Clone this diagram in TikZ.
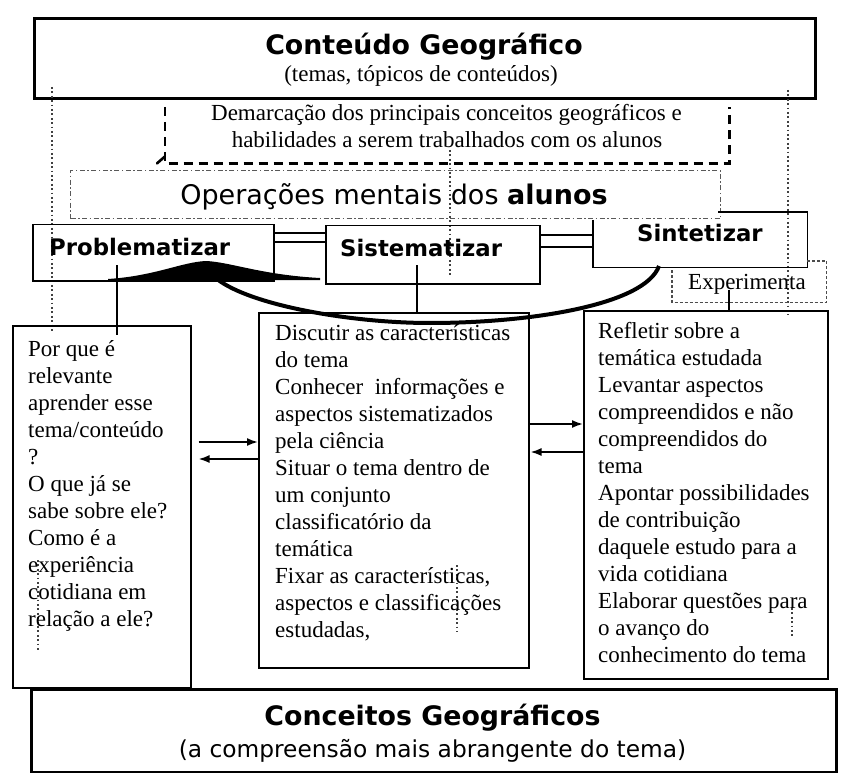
\documentclass[tikz,border=0pt]{standalone}
\usepackage{fontspec}
\setmainfont{Liberation Serif}
\newfontfamily\dvs{DejaVu Sans}
\usetikzlibrary{arrows.meta}
\begin{document}
\begin{tikzpicture}[x=1pt,y=-1pt,
  box/.style={draw, line width=1.5pt, inner sep=0pt, anchor=north west},
  heavybox/.style={box, line width=3pt},
  ghost/.style={inner sep=0pt, anchor=north west},
  serif/.style={font=\fontsize{23}{27}\selectfont, inner sep=0pt},
  txt/.style={serif, align=left, anchor=north west},
  opsfont/.style={font=\dvs\fontsize{27}{30}\selectfont, inner sep=0pt},
  titlefont/.style={font=\dvs\bfseries\fontsize{26.8}{30}\selectfont, inner sep=0pt},
  stepfont/.style={font=\dvs\bfseries\fontsize{22.8}{26}\selectfont, inner sep=0pt},
  subsans/.style={font=\dvs\fontsize{23.3}{27}\selectfont, inner sep=0pt},
  arr/.style={line width=1.8pt, -{Latex[length=11pt,width=8pt]}},
  link/.style={line width=1.5pt},
  dotline/.style={line width=1.6pt, dash pattern=on 1.8pt off 2.6pt, black!75},
  dashdot/.style={line width=1.2pt, dash pattern=on 5pt off 2.5pt on 1.5pt off 2.5pt, black!65},
  bigdash/.style={line width=2.6pt, dash pattern=on 9pt off 6pt},
  expdash/.style={line width=1.5pt, dash pattern=on 3pt off 2pt, black!70}
]
\useasboundingbox (0,0) rectangle (855,773);

% ---- top box ----
\node[heavybox, minimum width=781pt, minimum height=80pt] (top) at (33,17) {};
\node[titlefont, anchor=base] (toptitle) at (424,55) {Conteúdo Geográfico};
\node[serif, anchor=base] (topsub) at (421,82) {(temas, tópicos de conteúdos)};

% ---- demarcation (open dashed box) ----
\node[ghost, minimum width=564pt, minimum height=56pt] (demarc) at (165,107) {};
\draw[bigdash] (demarc.north west) -- (demarc.south west) -- (demarc.south east) -- (demarc.north east);
\draw[line width=2.6pt, line cap=round] ([yshift=7pt]demarc.south west) -- ([xshift=-8pt]demarc.south west);
\node[serif, anchor=base] (dem1) at (446.5,121) {Demarcação dos principais conceitos geográficos e};
\node[serif, anchor=base] (dem2) at (447,148) {habilidades a serem trabalhados com os alunos};

% ---- operações mentais ----
\node[ghost, draw, dashdot, minimum width=650pt, minimum height=48pt] (ops) at (70,170) {};
\node[opsfont, anchor=base] (opstxt) at (394,205) {Operações mentais dos \textbf{alunos}};

% ---- dotted guide lines ----
\coordinate (dl1) at (52,87);   \coordinate (dl2) at (52,333);
\coordinate (dr1) at (788,90);  \coordinate (dr2) at (788,315);
\coordinate (dm1) at (450,150); \coordinate (dm2) at (450,276);
\coordinate (da1) at (38,560);  \coordinate (da2) at (38,652);
\coordinate (db1) at (457,565); \coordinate (db2) at (457,632);
\coordinate (dc1) at (792,608); \coordinate (dc2) at (792,637);
\draw[dotline] (dl1) -- (dl2);
\draw[dotline] (dr1) -- (dr2);
\draw[dotline] (dm1) -- (dm2);
\draw[dotline] (da1) -- (da2);
\draw[dotline] (db1) -- (db2);
\draw[dotline] (dc1) -- (dc2);

% ---- step boxes ----
\node[box, minimum width=241pt, minimum height=56pt] (prob) at (32,224) {};
\node[stepfont, anchor=base west] (probtxt) at (49,255) {Problematizar};
\node[box, minimum width=214pt, minimum height=58pt] (sist) at (325,225) {};
\node[stepfont, anchor=base west] (sisttxt) at (340,257) {Sistematizar};
\node[ghost, minimum width=214pt, minimum height=55pt] (sint) at (593,212) {};
\draw[line width=1.5pt] ([yshift=-8pt]sint.north west) -- (sint.south west) -- (sint.south east) -- (sint.north east) -- ([xshift=125pt]sint.north west);
\node[stepfont, anchor=base west] (sinttxt) at (637,242) {Sintetizar};

% double links
\draw[link] (prob.east |- 0,233) -- (sist.west |- 0,233);
\draw[link] (prob.east |- 0,242) -- (sist.west |- 0,242);
\draw[link] (sist.east |- 0,235) -- (sint.west |- 0,235);
\draw[link] (sist.east |- 0,247) -- (sint.west |- 0,247);

% ---- experimenta ----
\node[ghost, minimum width=154pt, minimum height=41pt] (exper) at (672,261) {};
\draw[expdash] ([yshift=-9pt]exper.north west) -- (exper.south west) -- (exper.south east) -- (exper.north east) -- ([xshift=135pt]exper.north west);
\node[serif, anchor=base west] (expertxt) at (688,290) {Experimenta};

% ---- content boxes ----
\node[box, minimum width=178pt, minimum height=362pt] (lbox) at (12,325) {};
\node[box, minimum width=270pt, minimum height=355pt] (mbox) at (258,312) {};
\node[box, minimum width=244pt, minimum height=368pt] (rbox) at (583,310) {};

\node[txt] (ltxt) at (28,340.5) {Por que é\\relevante\\aprender esse\\tema/conteúdo\\?\\O que já se\\sabe sobre ele?\\Como é a\\experiência\\cotidiana em\\relação a ele?};
\node[txt] (mtxt) at (275,324.5) {Discutir as características\\do tema\\Conhecer\ \ informações e\\aspectos sistematizados\\pela ciência\\Situar o tema dentro de\\um conjunto\\classificatório da\\temática\\Fixar as características,\\aspectos e classificações\\estudadas,};
\node[txt] (rtxt) at (598,322.5) {Refletir sobre a\\temática estudada\\Levantar aspectos\\compreendidos e não\\compreendidos do\\tema\\Apontar possibilidades\\de contribuição\\daquele estudo para a\\vida cotidiana\\Elaborar questões para\\o avanço do\\conhecimento do tema};

% vertical connectors from step boxes
\coordinate (pv) at (117,265);
\coordinate (sv) at (417,265);
\coordinate (ev) at (729,290);
\draw[link] (pv) -- (pv |- 0,335);
\draw[link] (sv) -- (sv |- mbox.north);
\draw[link] (ev) -- (ev |- rbox.north);

% arrows between content boxes
\draw[arr, shorten <=7pt] (lbox.east |- 0,442) -- (mbox.west |- 0,442);
\draw[arr, shorten >=7pt] (mbox.west |- 0,459) -- (lbox.east |- 0,459);
\draw[arr] (mbox.east |- 0,424) -- (rbox.west |- 0,424);
\draw[arr, shorten >=1pt] (rbox.west |- 0,452) -- (mbox.east |- 0,452);

% ---- return curve with wedge head ----
\coordinate (cs) at (659,266);
\coordinate (cm) at (430,323);
\coordinate (ce) at (217,279);
\draw[line width=4pt] (cs) .. controls (645,305) and (530,323) .. (cm) .. controls (350,323) and (250,305) .. (ce);
\fill (108,279) .. controls (155,276) and (182,262) .. (206,261) .. controls (230,262) and (262,275) .. (320,278) -- (320,280) -- (108,280) -- cycle;

% ---- bottom box ----
\node[heavybox, minimum width=805pt, minimum height=83pt] (bottom) at (30,688) {};
\node[titlefont, anchor=base] (bottitle) at (432.5,725) {Conceitos Geográficos};
\node[subsans, anchor=base] (botsub) at (432.5,757) {(a compreensão mais abrangente do tema)};
\end{tikzpicture}
\end{document}
